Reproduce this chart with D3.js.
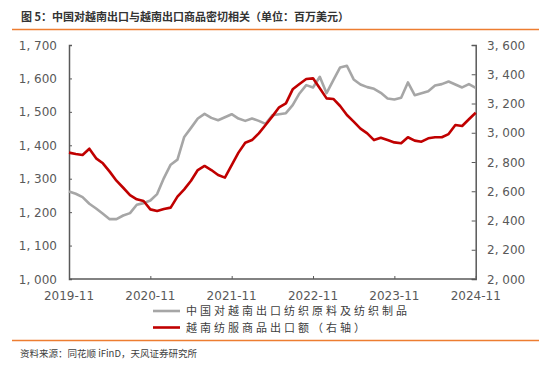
<!DOCTYPE html>
<html><head><meta charset="utf-8">
<script src="https://cdn.jsdelivr.net/npm/d3@7"></script>
<style>
body{margin:0;background:#fff;}
svg{display:block;}
</style></head>
<body>
<svg id="c" width="550" height="369"></svg>
<script>
const title = "图 5：中国对越南出口与越南出口商品密切相关（单位：百万美元）";
const source = "资料来源：同花顺 iFinD，天风证券研究所";
const seriesNames = ["中国对越南出口纺织原料及纺织制品", "越南纺服商品出口额（右轴）"];
const startMonth = "2019-11";
const xTickLabels = ["2019-11","2020-11","2021-11","2022-11","2023-11","2024-11"];
const leftTicks = [1000,1100,1200,1300,1400,1500,1600,1700];
const rightTicks = [2000,2200,2400,2600,2800,3000,3200,3400,3600];
// China exports to Vietnam: textile materials & products (left axis), monthly 2019-11..2024-11
const chinaExports = [1262,1255,1245,1225,1211,1195,1179,1179,1190,1197,1222,1227,1235,1254,1302,1342,1357,1425,1452,1480,1494,1482,1475,1484,1493,1480,1473,1480,1473,1464,1490,1493,1496,1520,1555,1580,1573,1605,1556,1595,1633,1638,1597,1582,1574,1569,1557,1540,1537,1542,1588,1550,1556,1562,1579,1583,1591,1582,1573,1583,1572];
// Vietnam textile & garment exports (right axis)
const vietnamExports = [2864,2855,2848,2891,2825,2791,2734,2672,2624,2574,2545,2533,2476,2465,2479,2488,2563,2613,2672,2745,2773,2745,2711,2693,2779,2864,2932,2950,2996,3053,3112,3174,3201,3297,3333,3367,3372,3304,3235,3231,3183,3121,3076,3028,2996,2950,2966,2950,2934,2928,2969,2946,2939,2962,2969,2969,2991,3053,3046,3092,3137];

const svg = d3.select("#c");
const M = {l:69, r:475.7, t:45, b:279};
const n = chinaExports.length;
const x = d3.scaleLinear().domain([0, n-1]).range([M.l, M.r]);
const yL = d3.scaleLinear().domain([1000,1700]).range([M.b, M.t]);
const yR = d3.scaleLinear().domain([2000,3600]).range([M.b, M.t]);
const fmt = v => d3.format(",")(v).replace(",", ", ");
const axisColor = "#595959";
const labelFont = "'DejaVu Sans', 'Noto Sans', sans-serif";

// title
svg.append("text").attr("x",21).attr("y",20.5).text(title)
  .attr("font-family","'Noto Sans CJK SC', sans-serif").attr("font-weight","bold")
  .attr("font-size",11).attr("fill","#333");
svg.append("line").attr("x1",12).attr("x2",539).attr("y1",29.5).attr("y2",29.5)
  .attr("stroke","#ED7D31").attr("stroke-width",1.3);

// axes
const gL = svg.append("g").attr("transform",`translate(${M.l},0)`)
  .call(d3.axisRight(yL).tickValues(leftTicks).tickSize(3).tickFormat(""));
const gR = svg.append("g").attr("transform",`translate(${M.r},0)`)
  .call(d3.axisLeft(yR).tickValues(rightTicks).tickSize(4).tickFormat(""));
const xTickIdx = xTickLabels.map((d,i)=>i*12);
const gB = svg.append("g").attr("transform",`translate(0,${M.b})`)
  .call(d3.axisTop(x).tickValues(xTickIdx).tickSize(3).tickFormat(""));
[gL,gR,gB].forEach(g=>{
  g.selectAll("path").attr("stroke",axisColor).attr("stroke-width",1.5);
  g.selectAll("line").attr("stroke",axisColor).attr("stroke-width",1);
});
gB.select("path").attr("d",`M${M.l},0H${M.r}`);

// tick labels
svg.append("g").selectAll("text").data(leftTicks).join("text")
  .attr("x",57).attr("y",d=>yL(d)+4.5).attr("text-anchor","end").text(fmt)
  .attr("font-family",labelFont).attr("font-size",12).attr("fill",axisColor);
svg.append("g").selectAll("text").data(rightTicks).join("text")
  .attr("x",487).attr("y",d=>yR(d)+4.5).attr("text-anchor","start").text(fmt)
  .attr("font-family",labelFont).attr("font-size",12).attr("fill",axisColor);
svg.append("g").selectAll("text").data(xTickLabels).join("text")
  .attr("x",(d,i)=>x(xTickIdx[i])).attr("y",300).attr("text-anchor","middle").text(d=>d)
  .attr("font-family",labelFont).attr("font-size",12).attr("fill",axisColor);

// lines
const lineL = d3.line().x((d,i)=>x(i)).y(d=>yL(d));
const lineR = d3.line().x((d,i)=>x(i)).y(d=>yR(d));
svg.append("path").datum(chinaExports).attr("d",lineL).attr("fill","none")
  .attr("stroke","#A6A6A6").attr("stroke-width",2.6).attr("stroke-linejoin","round");
svg.append("path").datum(vietnamExports).attr("d",lineR).attr("fill","none")
  .attr("stroke","#C00000").attr("stroke-width",2.6).attr("stroke-linejoin","round");

// legend
const legColors = ["#A6A6A6","#C00000"];
const legY = [311, 327.5];
seriesNames.forEach((s,i)=>{
  svg.append("line").attr("x1",153).attr("x2",180).attr("y1",legY[i]).attr("y2",legY[i])
    .attr("stroke",legColors[i]).attr("stroke-width",2.6);
  svg.append("text").attr("x",186).attr("y",legY[i]+4).text(s)
    .attr("font-family","'Noto Sans CJK SC', sans-serif").attr("font-size",11)
    .attr("letter-spacing",3).attr("fill","#404040");
});

// footer
svg.append("line").attr("x1",12).attr("x2",539).attr("y1",340.5).attr("y2",340.5)
  .attr("stroke","#ED7D31").attr("stroke-width",1.3);
svg.append("text").attr("x",20).attr("y",356.5).text(source)
  .attr("font-family","'Noto Sans CJK SC', sans-serif").attr("font-size",9.5).attr("fill","#404040");
</script>
</body></html>
